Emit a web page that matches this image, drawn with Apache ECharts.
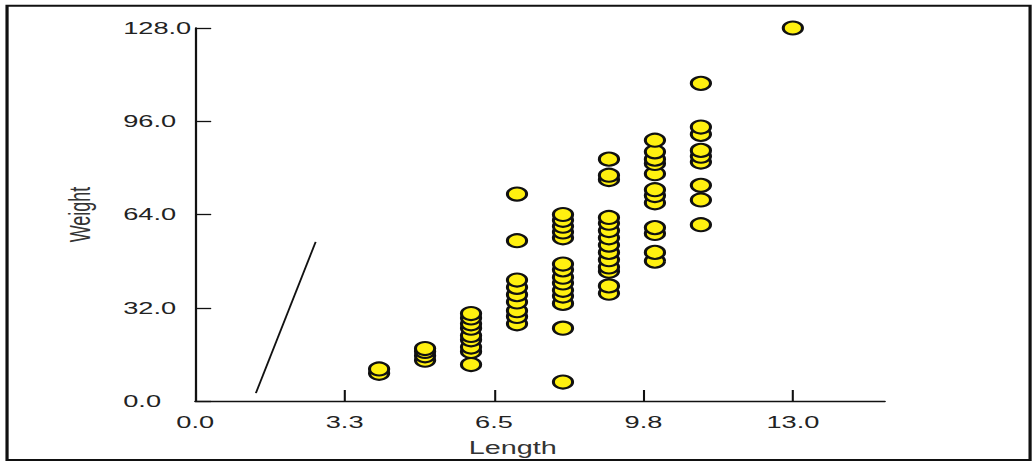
<!DOCTYPE html>
<html>
<head>
<meta charset="utf-8">
<script src="https://cdn.jsdelivr.net/npm/echarts@6/dist/echarts.min.js"></script>
<style>
  html, body { margin: 0; padding: 0; background: #fff; overflow: hidden; }
  /* the reference picture is stretched sideways, so the chart is drawn narrow and scaled */
  #chart { width: 646px; height: 464px; transform: scaleX(1.6); transform-origin: 0 0; }
</style>
</head>
<body>
<div id="chart"></div>
<script>
// tick values and labels
const xTicks = [0, 3.25, 6.5, 9.75, 13];
const xTickLabels = ['0.0', '3.3', '6.5', '9.8', '13.0'];
const yTicks = [0, 32, 64, 96, 128];
const yTickLabels = ['0.0', '32.0', '64.0', '96.0', '128.0'];

const w4 = [9.5, 11];
const w5 = [14, 15.5, 17, 18];
const w6 = [12.5, 17, 18.5, 21, 22.5, 25, 26.5, 28.5, 30];
const w7 = [26.5, 29, 31, 34, 36.5, 39, 41.5, 55, 71];
const w8 = [6.5, 25, 33.5, 36, 38, 40.5, 42.5, 45, 47, 56, 58, 60, 62, 64];
const w9 = [37, 39.5, 44.5, 46, 48.5, 51, 53.5, 56, 58.5, 61, 63, 76, 77.5, 83];
const w10 = [48, 51, 57.5, 59.5, 68, 70.5, 72.5, 78, 81.5, 83, 85.5, 89.5];
const w11 = [60.5, 69, 74, 82, 84, 86, 91.5, 94, 109];
const w13 = [128];

const lengths = [4, 5, 6, 7, 8, 9, 10, 11, 13];
const weightCols = [w4, w5, w6, w7, w8, w9, w10, w11, w13];

// the thin fitted line near the origin
const lineData = [[1.32, 2.7], [2.62, 54.6]];

const points = [];
lengths.forEach((len, i) => {
  weightCols[i].forEach(w => points.push([len, w]));
});

const font = 'Liberation Sans, Arial, sans-serif';
const chart = echarts.init(document.getElementById('chart'), null, { renderer: 'svg' });

chart.setOption({
  animation: false,
  graphic: [{
    type: 'rect',
    shape: { x: 4.4, y: 5.7, width: 639.4, height: 454.3 },
    style: { fill: 'none', stroke: '#111', lineWidth: 2 },
    silent: true
  }],
  grid: { left: 122, right: 93, top: 28, bottom: 63 },
  xAxis: {
    type: 'value',
    min: 0,
    max: 15,
    name: 'Length',
    nameLocation: 'middle',
    nameGap: 38,
    nameTextStyle: { fontFamily: font, fontSize: 18, color: '#333', padding: [0, 34, 0, 0] },
    axisLine: { lineStyle: { color: '#111', width: 1.4 } },
    axisTick: {
      inside: true,
      length: 11,
      customValues: xTicks,
      lineStyle: { color: '#111', width: 1.3 }
    },
    axisLabel: {
      customValues: xTicks,
      margin: 13,
      fontFamily: font,
      fontSize: 17,
      color: '#222',
      formatter: v => xTickLabels[xTicks.indexOf(v)]
    },
    splitLine: { show: false }
  },
  yAxis: {
    type: 'value',
    min: 0,
    max: 128,
    name: 'Weight',
    nameLocation: 'middle',
    nameGap: 63,
    nameTextStyle: { fontFamily: font, fontSize: 18, color: '#333' },
    axisLine: { show: true, lineStyle: { color: '#111', width: 1.4 } },
    axisTick: {
      show: true,
      inside: true,
      length: 10,
      customValues: yTicks,
      lineStyle: { color: '#111', width: 1.3 }
    },
    axisLabel: {
      customValues: yTicks,
      margin: 45,
      align: 'left',
      padding: [0, 0, 6, 0],
      fontFamily: font,
      fontSize: 17,
      color: '#222',
      formatter: v => yTickLabels[yTicks.indexOf(v)]
    },
    splitLine: { show: false }
  },
  series: [
    {
      type: 'line',
      data: lineData,
      symbol: 'none',
      silent: true,
      lineStyle: { color: '#111', width: 1.2 }
    },
    {
      type: 'scatter',
      data: points,
      symbol: 'circle',
      symbolSize: [12, 13],
      clip: false,
      itemStyle: { color: '#fff010', borderColor: '#111', borderWidth: 2, opacity: 1 }
    }
  ]
});
</script>
</body>
</html>
